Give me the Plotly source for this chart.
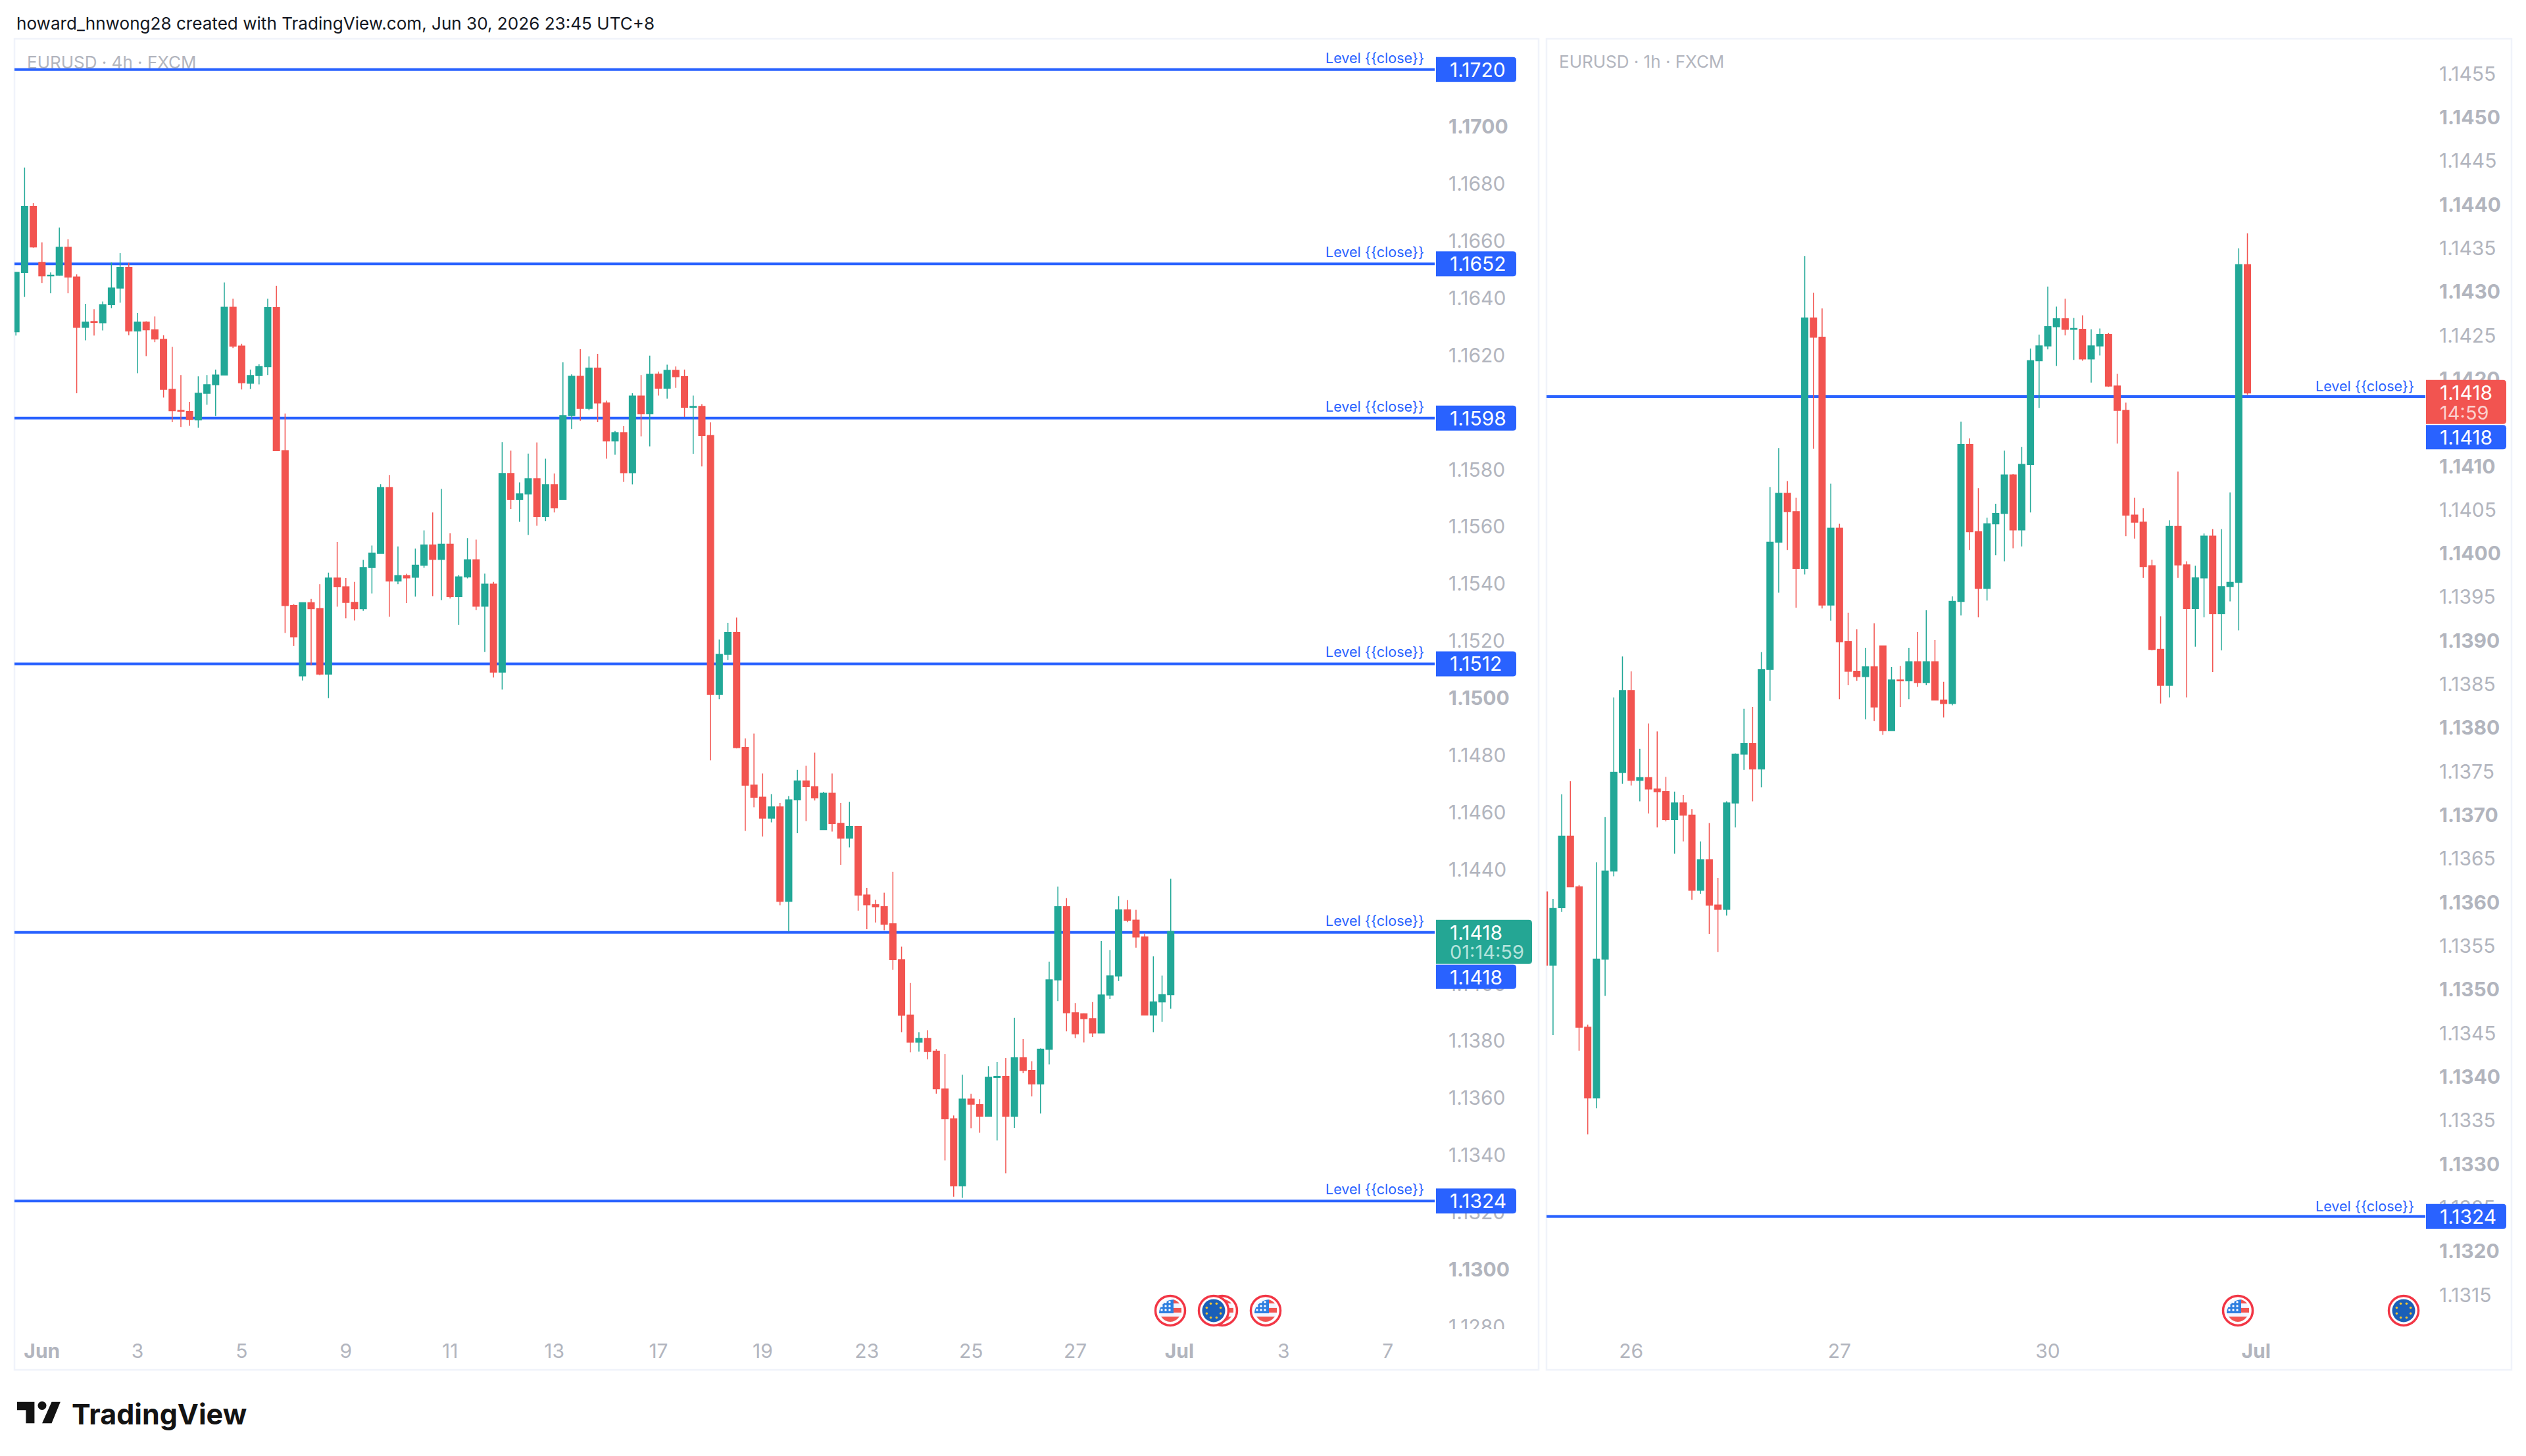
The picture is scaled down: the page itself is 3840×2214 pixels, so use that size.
import math
import plotly.graph_objects as go

W, H = 3840, 2214
# the page comes out slightly short vertically at H, this height lines it up with the reference
FIG_H = 2229

# EURUSD 4h
open_4h = [1.16282,1.16490,1.16721,1.16525,1.16478,1.16480,1.16578,1.16474,1.16298,1.16318,1.16314,1.16377,1.16435,1.16507,1.16285,1.16316,1.16289,1.16256,1.16081,1.16007,
 1.16003,1.15974,1.16067,1.16097,1.16131,1.16368,1.16232,1.16102,1.16129,1.16160,1.16367,1.15866,1.15324,1.15078,1.15334,1.15313,1.15084,1.15420,1.15390,1.15335,
 1.15313,1.15457,1.15507,1.15737,1.15410,1.15429,1.15423,1.15465,1.15536,1.15486,1.15539,1.15355,1.15424,1.15484,1.15322,1.15399,1.15091,1.15786,1.15696,1.15715,
 1.15768,1.15636,1.15747,1.15696,1.15989,1.16126,1.16014,1.16155,1.16033,1.15900,1.15929,1.15789,1.16057,1.15995,1.16134,1.16085,1.16147,1.16125,1.16018,1.16021,
 1.15919,1.15013,1.15153,1.15230,1.14827,1.14696,1.14653,1.14580,1.14619,1.14289,1.14644,1.14710,1.14690,1.14540,1.14667,1.14562,1.14510,1.14551,1.14311,1.14277,
 1.14270,1.14210,1.14085,1.13891,1.13796,1.13809,1.13764,1.13632,1.13528,1.13293,1.13597,1.13577,1.13537,1.13673,1.13676,1.13537,1.13742,1.13697,1.13650,1.13771,
 1.14014,1.14270,1.13899,1.13895,1.13878,1.13828,1.13961,1.14028,1.14259,1.14223,1.14164,1.13891,1.13937,1.13962]
high_4h = [1.16490,1.16857,1.16732,1.16595,1.16490,1.16647,1.16606,1.16483,1.16380,1.16361,1.16388,1.16525,1.16557,1.16524,1.16348,1.16319,1.16336,1.16270,1.16229,1.16131,
 1.16037,1.16126,1.16131,1.16150,1.16455,1.16398,1.16240,1.16150,1.16168,1.16398,1.16443,1.15996,1.15329,1.15335,1.15347,1.15399,1.15439,1.15547,1.15420,1.15407,
 1.15484,1.15534,1.15749,1.15781,1.15531,1.15435,1.15523,1.15587,1.15650,1.15732,1.15577,1.15431,1.15560,1.15555,1.15436,1.15407,1.15896,1.15866,1.15755,1.15856,
 1.15895,1.15838,1.15786,1.16175,1.16133,1.16221,1.16196,1.16205,1.16041,1.15936,1.15952,1.16067,1.16131,1.16199,1.16143,1.16167,1.16161,1.16150,1.16059,1.16029,
 1.15965,1.15205,1.15264,1.15282,1.14859,1.14876,1.14736,1.14664,1.14633,1.14657,1.14749,1.14763,1.14809,1.14672,1.14736,1.14633,1.14637,1.14551,1.14336,1.14294,
 1.14319,1.14392,1.14130,1.14003,1.13831,1.13838,1.13772,1.13754,1.13539,1.13682,1.13615,1.13597,1.13712,1.13726,1.13740,1.13881,1.13807,1.13729,1.13774,1.14077,
 1.14340,1.14300,1.13933,1.13897,1.13936,1.14150,1.14118,1.14307,1.14293,1.14259,1.14176,1.14096,1.14029,1.14368]
low_4h = [1.16269,1.16404,1.16576,1.16453,1.16417,1.16478,1.16417,1.16067,1.16252,1.16269,1.16287,1.16365,1.16384,1.16270,1.16137,1.16197,1.16246,1.16052,1.15966,1.15949,
 1.15953,1.15946,1.16027,1.15987,1.16131,1.16225,1.16080,1.16082,1.16098,1.16131,1.15866,1.15228,1.15183,1.15062,1.15115,1.15080,1.15000,1.15320,1.15279,1.15272,
 1.15306,1.15366,1.15507,1.15285,1.15399,1.15333,1.15355,1.15456,1.15357,1.15343,1.15349,1.15257,1.15419,1.15308,1.15162,1.15072,1.15030,1.15662,1.15617,1.15571,
 1.15603,1.15620,1.15650,1.15696,1.15942,1.15971,1.16008,1.15966,1.15838,1.15852,1.15757,1.15748,1.15916,1.15881,1.16059,1.16048,1.16086,1.15984,1.15855,1.15811,
 1.14782,1.14996,1.15133,1.14824,1.14535,1.14618,1.14516,1.14565,1.14275,1.14183,1.14527,1.14570,1.14642,1.14540,1.14533,1.14417,1.14478,1.14256,1.14191,1.14215,
 1.14188,1.14049,1.13831,1.13760,1.13763,1.13736,1.13616,1.13382,1.13255,1.13251,1.13495,1.13479,1.13537,1.13452,1.13337,1.13496,1.13687,1.13606,1.13546,1.13718,
 1.13940,1.13834,1.13810,1.13795,1.13814,1.13828,1.13947,1.14010,1.14216,1.14127,1.13891,1.13831,1.13867,1.13913]
close_4h = [1.16490,1.16721,1.16579,1.16478,1.16480,1.16578,1.16474,1.16298,1.16316,1.16315,1.16377,1.16435,1.16507,1.16285,1.16316,1.16289,1.16257,1.16081,1.16006,1.16004,
 1.15975,1.16067,1.16097,1.16131,1.16368,1.16232,1.16104,1.16129,1.16160,1.16367,1.15866,1.15324,1.15214,1.15334,1.15313,1.15084,1.15420,1.15390,1.15335,1.15313,
 1.15457,1.15507,1.15737,1.15410,1.15429,1.15421,1.15465,1.15536,1.15486,1.15539,1.15355,1.15424,1.15484,1.15322,1.15399,1.15091,1.15786,1.15696,1.15715,1.15768,
 1.15636,1.15747,1.15666,1.15989,1.16126,1.16014,1.16155,1.16033,1.15900,1.15929,1.15789,1.16057,1.15995,1.16133,1.16085,1.16147,1.16125,1.16018,1.16021,1.15919,
 1.15013,1.15153,1.15230,1.14827,1.14695,1.14653,1.14580,1.14619,1.14289,1.14644,1.14710,1.14690,1.14651,1.14667,1.14561,1.14510,1.14551,1.14311,1.14277,1.14270,
 1.14209,1.14085,1.13890,1.13796,1.13809,1.13763,1.13633,1.13528,1.13293,1.13597,1.13579,1.13537,1.13673,1.13676,1.13537,1.13742,1.13697,1.13650,1.13771,1.14014,
 1.14270,1.13899,1.13825,1.13878,1.13828,1.13961,1.14028,1.14259,1.14223,1.14164,1.13891,1.13937,1.13962,1.14183]

# EURUSD 1h
open_1h = [1.13612,1.13528,1.13594,1.13676,1.13618,1.13457,1.13376,1.13535,1.13636,1.13749,1.13843,1.13740,1.13743,1.13730,1.13727,1.13695,1.13714,1.13700,1.13614,1.13649,
 1.13597,1.13592,1.13714,1.13770,1.13782,1.13753,1.13867,1.14013,1.14069,1.14048,1.13983,1.14270,1.14248,1.13941,1.14029,1.13899,1.13865,1.13859,1.13870,1.13894,
 1.13797,1.13855,1.13854,1.13876,1.13852,1.13876,1.13832,1.13828,1.13945,1.14125,1.14025,1.13960,1.14034,1.14046,1.14090,1.14027,1.14102,1.14221,1.14238,1.14260,
 1.14269,1.14257,1.14257,1.14223,1.14238,1.14251,1.14192,1.14164,1.14044,1.14036,1.13986,1.13890,1.13849,1.14031,1.13987,1.13937,1.13972,1.14020,1.13931,1.13962,
 1.13967,1.14331]
high_1h = [1.13612,1.13604,1.13724,1.13739,1.13620,1.13460,1.13646,1.13698,1.13835,1.13882,1.13865,1.13776,1.13805,1.13796,1.13744,1.13727,1.13723,1.13707,1.13670,1.13691,
 1.13628,1.13716,1.13771,1.13822,1.13824,1.13887,1.14076,1.14121,1.14083,1.14064,1.14341,1.14299,1.14281,1.14080,1.14034,1.13932,1.13913,1.13892,1.13920,1.13894,
 1.13870,1.13871,1.13892,1.13910,1.13935,1.13901,1.13853,1.13951,1.14151,1.14132,1.14075,1.14041,1.14057,1.14118,1.14091,1.14122,1.14235,1.14251,1.14306,1.14283,
 1.14292,1.14270,1.14273,1.14257,1.14258,1.14253,1.14206,1.14173,1.14064,1.14052,1.13993,1.13928,1.14038,1.14094,1.13991,1.13986,1.14023,1.14028,1.14028,1.14070,
 1.14350,1.14367]
low_1h = [1.13528,1.13448,1.13589,1.13618,1.13430,1.13334,1.13364,1.13493,1.13630,1.13736,1.13734,1.13716,1.13702,1.13686,1.13693,1.13656,1.13670,1.13603,1.13610,1.13564,
 1.13543,1.13585,1.13686,1.13752,1.13716,1.13732,1.13831,1.13955,1.14004,1.13938,1.13976,1.14120,1.13937,1.13923,1.13833,1.13849,1.13854,1.13810,1.13808,1.13792,
 1.13797,1.13824,1.13833,1.13847,1.13849,1.13832,1.13812,1.13826,1.13929,1.14004,1.13927,1.13946,1.13998,1.13991,1.14006,1.14008,1.14047,1.14167,1.14234,1.14215,
 1.14250,1.14222,1.14221,1.14196,1.14227,1.14191,1.14126,1.14020,1.14017,1.13972,1.13889,1.13828,1.13835,1.13972,1.13835,1.13893,1.13927,1.13864,1.13889,1.13945,
 1.13912,1.14182]
close_1h = [1.13528,1.13593,1.13676,1.13618,1.13457,1.13376,1.13535,1.13636,1.13749,1.13843,1.13740,1.13743,1.13730,1.13727,1.13695,1.13714,1.13700,1.13614,1.13649,1.13597,
 1.13592,1.13714,1.13770,1.13782,1.13753,1.13867,1.14013,1.14069,1.14048,1.13983,1.14270,1.14248,1.13941,1.14029,1.13899,1.13865,1.13859,1.13870,1.13824,1.13797,
 1.13855,1.13854,1.13876,1.13852,1.13876,1.13832,1.13828,1.13945,1.14125,1.14025,1.13960,1.14034,1.14046,1.14090,1.14027,1.14102,1.14221,1.14238,1.14260,1.14269,
 1.14257,1.14258,1.14223,1.14238,1.14251,1.14192,1.14164,1.14044,1.14036,1.13985,1.13890,1.13849,1.14031,1.13987,1.13937,1.13972,1.14020,1.13931,1.13962,1.13967,
 1.14331,1.14184]

levels_4h = [1.1720, 1.1652, 1.1598, 1.1512, 1.1418, 1.1324]
levels_1h = [1.1418, 1.1324]

date_ticks_4h = [3, 14, 26, 38, 50, 62, 74, 86, 98, 110, 122, 134, 146, 158]
date_text_4h = ["<b>Jun</b>", "3", "5", "9", "11", "13", "17", "19", "23", "25", "27", "<b>Jul</b>", "3", "7"]
date_ticks_1h = [10, 34, 58, 82]
date_text_1h = ["26", "27", "30", "<b>Jul</b>"]

# labels that sit fully behind a price tag in the picture are left out
price_ticks_4h = [1.170, 1.168, 1.166, 1.164, 1.162, 1.158, 1.156, 1.154, 1.152, 1.150, 1.148, 1.146,
                  1.144, 1.140, 1.138, 1.136, 1.134, 1.132, 1.130, 1.128]
price_text_4h = ["<b>1.1700</b>", "1.1680", "1.1660", "1.1640", "1.1620", "1.1580", "1.1560", "1.1540",
                 "1.1520", "<b>1.1500</b>", "1.1480", "1.1460", "1.1440", "1.1400", "1.1380", "1.1360", "1.1340",
                 "1.1320", "<b>1.1300</b>", "1.1280"]
price_ticks_1h = [1.1455, 1.1450, 1.1445, 1.1440, 1.1435, 1.1430, 1.1425, 1.1420, 1.1410, 1.1405, 1.1400, 1.1395, 1.1390,
                  1.1385, 1.1380, 1.1375, 1.1370, 1.1365, 1.1360, 1.1355, 1.1350, 1.1345, 1.1340, 1.1335, 1.1330, 1.1325, 1.1320, 1.1315]
price_text_1h = ["1.1455", "<b>1.1450</b>", "1.1445", "<b>1.1440</b>", "1.1435", "<b>1.1430</b>", "1.1425", "<b>1.1420</b>",
                 "<b>1.1410</b>", "1.1405", "<b>1.1400</b>", "1.1395", "<b>1.1390</b>", "1.1385", "<b>1.1380</b>", "1.1375", "<b>1.1370</b>",
                 "1.1365", "<b>1.1360</b>", "1.1355", "<b>1.1350</b>", "1.1345", "<b>1.1340</b>", "1.1335", "<b>1.1330</b>", "1.1325",
                 "<b>1.1320</b>", "1.1315"]

GREEN = "#22a897"
RED = "#f25450"
BLUE = "#2962ff"
GREY = "#b2b5be"
FONT = "Inter"


def px(x):
    return x / W


def py(y):
    return 1 - y / H


shapes = []
annotations = []


def text(x, y, s, size, color, anchor="left", yref="paper", yshift=0):
    annotations.append(dict(xref="paper", yref=yref, x=px(x), y=py(y) if yref == "paper" else y, text=s, showarrow=False,
                            xanchor=anchor, yanchor="middle", yshift=yshift, font=dict(family=FONT, size=size, color=color)))


def tag(x, y, w, h, color, yref="paper"):
    r = 5
    path = (f"M0,{-h/2} H{w-r} Q{w},{-h/2} {w},{-h/2+r} V{h/2-r} Q{w},{h/2} {w-r},{h/2} H0 Z")
    shapes.append(dict(type="path", path=path, xref="paper", yref=yref, xsizemode="pixel", ysizemode="pixel",
                       xanchor=px(x), yanchor=py(y) if yref == "paper" else y, fillcolor=color, line=dict(width=0), layer="above"))


def circle(cx, cy, r, fill, line=None, lw=0):
    shapes.append(dict(type="circle", xref="paper", yref="paper", x0=px(cx - r), x1=px(cx + r), y0=py(cy + r), y1=py(cy - r),
                       fillcolor=fill, line=dict(width=lw, color=line or fill), layer="above"))


def poly(cx, cy, cmds, fill):
    # cmds are (letter, x, y, ...) offsets from the icon centre
    parts = []
    for c in cmds:
        pts = c[1:]
        coords = " ".join(f"{px(cx + pts[i])},{py(cy + pts[i + 1])}" for i in range(0, len(pts), 2))
        parts.append(c[0] + coords)
    shapes.append(dict(type="path", xref="paper", yref="paper", path=" ".join(parts) + " Z", fillcolor=fill,
                       line=dict(width=0), layer="above"))


def us_icon(cx, cy):
    circle(cx, cy, 22.5, "white", "#f23645", 3.5)
    circle(cx, cy, 17.5, "#f4f6ff")
    poly(cx, cy, [("M", -17, 4), ("C", -17, -8, -6, -16, 5, -17), ("L", 5, 4)], "#2f7fe0")
    poly(cx, cy, [("M", 5, -17), ("Q", 11, -15, 14, -11), ("L", 5, -11)], "#f25450")
    poly(cx, cy, [("M", 5, -4), ("L", 17, -4), ("L", 17, 3), ("L", 5, 3)], "#f25450")
    poly(cx, cy, [("M", -14, 9), ("L", 14, 9), ("Q", 8, 17, 0, 17), ("Q", -8, 17, -14, 9)], "#f25450")
    for dx, dy in [(-7, -13), (-1, -13), (-13, -7), (-7, -7), (-1, -7), (-13, -1), (-7, -1), (-1, -1)]:
        circle(cx + dx, cy + dy, 1.7, "white")


def eu_icon(cx, cy):
    circle(cx, cy, 22.5, "white", "#f23645", 3.5)
    circle(cx, cy, 17.5, "#1a5fb8")
    for i in range(8):
        a = i * math.pi / 4 + math.pi / 8
        circle(cx + 11.5 * math.cos(a), cy + 11.5 * math.sin(a), 1.8, "#f2c531")


# pane outlines
for x0, x1 in [(22, 2339), (2351, 3818)]:
    shapes.append(dict(type="rect", xref="paper", yref="paper", x0=px(x0), x1=px(x1), y0=py(2082), y1=py(59),
                       line=dict(color="#f0f3fa", width=2.5), layer="below"))

for lv in levels_4h:
    shapes.append(dict(type="line", xref="x domain", yref="y", x0=0, x1=1, y0=lv, y1=lv,
                       line=dict(color=BLUE, width=4), layer="below"))
    text(2167, lv, "Level {{close}}", 21.5, BLUE, "right", "y", 18)
for lv in levels_1h:
    shapes.append(dict(type="line", xref="x2 domain", yref="y2", x0=0, x1=1, y0=lv, y1=lv,
                       line=dict(color=BLUE, width=4), layer="below"))
    text(3672, lv, "Level {{close}}", 21.5, BLUE, "right", "y2", 16)

# keep the last price label from running past the bottom of the scale
shapes.append(dict(type="rect", xref="paper", yref="paper", x0=px(2190), x1=px(2330), y0=py(2044), y1=py(2020),
                   fillcolor="white", line=dict(width=0), layer="above"))

# price tags, left scale
for lv in levels_4h:
    if lv != 1.1418:
        tag(2183, lv, 122, 38, BLUE, "y")
        text(2202, lv, f"{lv:.4f}", 30, "white", "left", "y")
tag(2183, 1431.5, 146, 67, "#24a694")
text(2202, 1417, "1.1418", 30, "white")
text(2202, 1447, "01:14:59", 29, "#b5e3dc")
tag(2183, 1484.5, 122, 37, BLUE)
text(2202, 1485, "1.1418", 30, "white")

# price tags, right scale
tag(3688, 611, 122, 67, RED)
text(3707, 597, "1.1418", 30, "white")
text(3707, 627, "14:59", 29, "#fbd0ce")
tag(3688, 664.5, 122, 37, BLUE)
text(3707, 664.5, "1.1418", 30, "white")
tag(3688, 1849, 122, 38, BLUE)
text(3707, 1849, "1.1324", 30, "white")

# event markers
us_icon(1779, 1992)
us_icon(1858, 1992)
eu_icon(1845, 1992)
us_icon(1924, 1992)
us_icon(3402, 1992)
eu_icon(3654, 1992)

# header, pane titles
text(23, 35, "howard_hnwong28 created with TradingView.com, Jun 30, 2026 23:45 UTC+8", 26.1, "#131722")
text(39, 94, "EURUSD · 4h · FXCM", 26, GREY)
text(2368, 93, "EURUSD · 1h · FXCM", 26, GREY)

# TradingView logo
poly(0, 0, [("M", 26, 2130.7), ("L", 52.4, 2130.7), ("L", 52.4, 2163.3), ("L", 39.4, 2163.3), ("L", 39.4, 2143.3), ("L", 26, 2143.3)], "#131313")
circle(64, 2136.5, 6.5, "#131313")
poly(0, 0, [("M", 78.5, 2130.7), ("L", 91.8, 2130.7), ("L", 78.5, 2163.3), ("L", 64, 2163.3)], "#131313")
text(107, 2149, "<b>TradingView</b>", 43, "#131313")

fig = go.Figure()
fig.add_trace(go.Candlestick(x=list(range(len(open_4h))), open=open_4h, high=high_4h, low=low_4h, close=close_4h,
                             xaxis="x", yaxis="y", whiskerwidth=0,
                             increasing=dict(line=dict(color=GREEN, width=1.5), fillcolor=GREEN),
                             decreasing=dict(line=dict(color=RED, width=1.5), fillcolor=RED)))
fig.add_trace(go.Candlestick(x=list(range(len(open_1h))), open=open_1h, high=high_1h, low=low_1h, close=close_1h,
                             xaxis="x2", yaxis="y2", whiskerwidth=0,
                             increasing=dict(line=dict(color=GREEN, width=1.5), fillcolor=GREEN),
                             decreasing=dict(line=dict(color=RED, width=1.5), fillcolor=RED)))

tick_font = dict(family=FONT, size=30, color=GREY)
x_common = dict(showgrid=False, zeroline=False, showline=False, ticks="", rangeslider=dict(visible=False),
                tickfont=tick_font, ticklabelstandoff=13, tickmode="array")
y_common = dict(showgrid=False, zeroline=False, showline=False, ticks="", side="right", tickfont=tick_font,
                ticklabelstandoff=20, tickmode="array", domain=[py(2020), py(59)])

fig.update_layout(
    width=W, height=FIG_H, margin=dict(l=0, r=0, t=0, b=0), paper_bgcolor="white", plot_bgcolor="white",
    showlegend=False, boxgap=0.28, boxgroupgap=0, shapes=shapes, annotations=annotations,
    xaxis=dict(domain=[px(22), px(2181)], range=[-0.167, 163.4], anchor="y",
               tickvals=date_ticks_4h, ticktext=date_text_4h, **x_common),
    yaxis=dict(range=[1.12792, 1.173075], anchor="x", tickvals=price_ticks_4h, ticktext=price_text_4h, **y_common),
    xaxis2=dict(domain=[px(2351), px(3687)], range=[0.25, 101.5], anchor="y2",
                tickvals=date_ticks_1h, ticktext=date_text_1h, **x_common),
    yaxis2=dict(range=[1.13111, 1.14590], anchor="x2", tickvals=price_ticks_1h, ticktext=price_text_1h, **y_common),
)

fig.write_html("out.html", config=dict(displayModeBar=False),
               post_script="document.documentElement.style.overflow='hidden';document.body.style.margin='0';document.body.style.overflow='hidden';")
